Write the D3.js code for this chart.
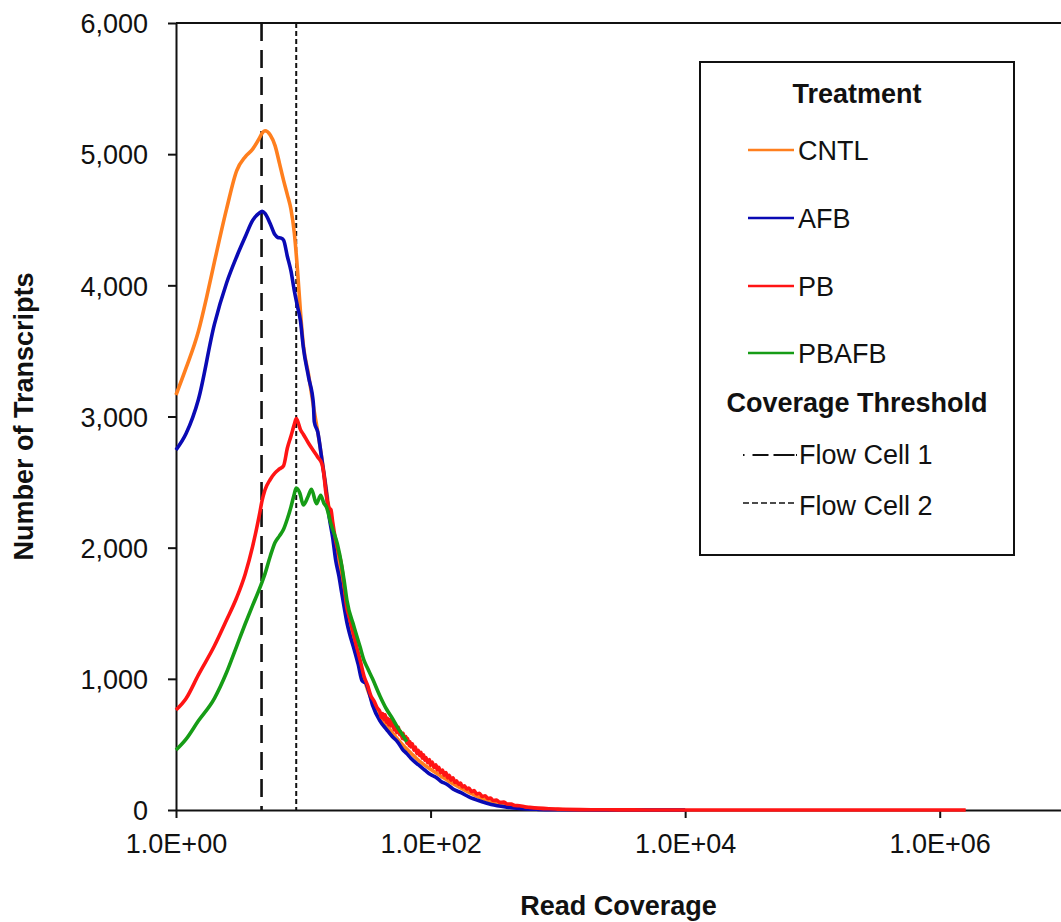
<!DOCTYPE html>
<html>
<head>
<meta charset="utf-8">
<script src="https://cdn.jsdelivr.net/npm/d3@7"></script>
<style>
  html, body { margin: 0; padding: 0; background: #fff; }
  svg { display: block; }
  text { font-family: "Liberation Sans", Arial, sans-serif; fill: #111; }
</style>
</head>
<body>
<svg id="chart" width="1061" height="922"></svg>
<script>
// ---------------- DATA ----------------
const seriesNames = ["CNTL", "AFB", "PB", "PBAFB"];
const seriesColors = ["#FF7F1E", "#0A0AB4", "#FF1414", "#169C16"];

const cntl = [[1,3164],[1.2,3370],[1.5,3650],[1.75,3920],[2,4175],[2.5,4585],[3,4875],[3.5,4980],[4,5038],[4.5,5118],[4.75,5160],[5,5178],[5.5,5146],[6,5065],[6.5,4930],[7,4800],[7.5,4690],[8,4580],[8.5,4400],[9,4120],[9.5,3800],[10,3550],[11,3320],[12,3080],[13,2880],[14,2680],[15,2480],[16,2280],[17,2120],[18,1960],[20,1760],[22,1500],[25,1300],[28,1110],[30,1000],[35,820],[40,705],[45,650],[50,590],[60,500],[70,435],[80,380],[100,310],[120,260],[150,200],[200,135],[250,90],[300,65],[400,38],[500,24],[700,10],[1000,4],[2000,1],[10000,0]];

const afb = [[1,2745],[1.2,2870],[1.5,3130],[2,3700],[2.5,4020],[3,4220],[3.5,4370],[4,4495],[4.5,4550],[4.75,4565],[5,4548],[5.5,4470],[6,4385],[6.3,4365],[6.7,4360],[7,4345],[7.5,4220],[8,4110],[8.5,3960],[9,3840],[9.5,3730],[10,3530],[11,3300],[12,3100],[12.2,2960],[13,2880],[14,2670],[15,2460],[16,2230],[17,2080],[18,1900],[19,1790],[20,1660],[21,1540],[22,1430],[23,1350],[25,1230],[27,1110],[29,985],[30,975],[31,968],[32,935],[35,800],[40,680],[45,615],[50,560],[55,520],[60,465],[65,430],[70,395],[80,345],[90,305],[100,270],[110,250],[120,220],[135,195],[150,160],[175,130],[200,100],[250,65],[300,42],[400,22],[500,12],[700,5],[1000,2],[2000,0],[10000,0]];

const pb = [[1,762],[1.2,850],[1.5,1030],[2,1250],[2.5,1450],[3,1620],[3.5,1800],[4,2010],[4.5,2240],[4.75,2360],[5,2440],[5.5,2520],[6,2570],[6.5,2600],[7,2625],[7.5,2760],[8,2850],[8.5,2940],[8.8,2985],[9,2970],[9.5,2900],[10,2865],[11,2796],[12,2740],[13,2690],[14,2640],[14.5,2560],[15,2430],[16,2300],[16.5,2290],[17,2200],[18,2050],[20,1860],[21,1700],[22,1540],[23,1470],[24,1400],[25,1330],[26,1260],[27,1200],[28,1140],[30,1020],[32,950],[34,870],[36,830],[38,780],[40,750],[41,705],[42,735],[43,690],[44,725],[45,670],[46,700],[47,650],[48,690],[49,640],[50,665],[52,610],[53,650],[54,590],[56,630],[57,575],[58,600],[60,545],[61,585],[62,540],[64,560],[65,510],[66,545],[68,490],[69,520],[70,480],[72,505],[74,455],[76,480],[78,430],[80,455],[82,415],[84,440],[86,395],[88,420],[90,380],[92,400],[95,360],[98,385],[100,340],[103,365],[106,325],[110,345],[113,305],[116,325],[120,285],[124,305],[128,265],[132,285],[136,245],[140,265],[145,228],[150,245],[155,210],[160,222],[166,195],[172,205],[178,175],[185,185],[192,160],[200,168],[210,140],[220,148],[230,122],[242,128],[255,103],[268,108],[282,88],[296,92],[310,72],[330,75],[350,58],[375,60],[400,46],[430,45],[460,34],[500,32],[550,24],[600,20],[700,14],[850,9],[1000,7],[1500,3],[2000,2],[3000,1],[5000,0.5],[10000,0],[100000,0],[1600000,0]];

const pbafb = [[1,457],[1.2,540],[1.5,680],[2,850],[2.5,1050],[3,1250],[3.5,1420],[4,1560],[4.5,1680],[4.75,1740],[5,1800],[5.5,1935],[6,2040],[6.5,2090],[7,2140],[7.5,2220],[8,2310],[8.5,2410],[8.8,2455],[9.4,2415],[10,2325],[10.9,2390],[11.6,2445],[12.7,2335],[13.7,2400],[14.5,2340],[15.2,2310],[16.5,2180],[18.5,2030],[20,1870],[21,1740],[22,1600],[25,1400],[28,1240],[30,1140],[32,1080],[35,1000],[40,870],[45,770],[50,700],[55,630],[60,575],[65,520]];

const seriesData = [cntl, afb, pb, pbafb];

const thresholdNames = ["Flow Cell 1", "Flow Cell 2"];
const thresholdValues = [4.7, 8.8];

const xTickValues = [1, 100, 10000, 1000000];
const xTickLabels = ["1.0E+00", "1.0E+02", "1.0E+04", "1.0E+06"];
const yTickValues = [0, 1000, 2000, 3000, 4000, 5000, 6000];

// ---------------- CHART ----------------
const svg = d3.select("#chart");
const pLeft = 176, pRight = 1067, pTop = 23, pBottom = 810;

const x = d3.scaleLog().domain([1, 1e7]).range([pLeft, pRight]);
const y = d3.scaleLinear().domain([0, 6000]).range([pBottom, pTop]);

const FS = 27;

// top border line
svg.append("line")
  .attr("x1", pLeft).attr("x2", 1061)
  .attr("y1", y(6000)).attr("y2", y(6000))
  .attr("stroke", "#111").attr("stroke-width", 2);

// y axis
const yAxis = svg.append("g")
  .attr("transform", `translate(${pLeft},0)`)
  .call(d3.axisLeft(y).tickValues(yTickValues).tickFormat(d3.format(",")).tickSize(8).tickSizeOuter(0).tickPadding(20));
yAxis.select(".domain").attr("stroke", "#111").attr("stroke-width", 2);
yAxis.selectAll(".tick line").attr("stroke", "#111").attr("stroke-width", 2);
yAxis.selectAll(".tick text").attr("font-size", FS).attr("font-family", "Liberation Sans, Arial, sans-serif").attr("fill", "#111").attr("dy", "0.36em");

// x axis
const xAxis = svg.append("g")
  .attr("transform", `translate(0,${pBottom})`)
  .call(d3.axisBottom(x).tickValues(xTickValues).tickFormat((d, i) => xTickLabels[i]).tickSize(8).tickSizeOuter(0).tickPadding(16));
xAxis.select(".domain").attr("stroke", "#111").attr("stroke-width", 2);
xAxis.selectAll(".tick line").attr("stroke", "#111").attr("stroke-width", 2);
xAxis.selectAll(".tick text").attr("font-size", FS).attr("font-family", "Liberation Sans, Arial, sans-serif").attr("fill", "#111");

// threshold lines
const thrStyles = [
  { w: 2.6, dash: "18,9" },
  { w: 2, dash: "5,3" }
];
thresholdValues.forEach((v, i) => {
  svg.append("line")
    .attr("x1", x(v)).attr("x2", x(v))
    .attr("y1", y(6000)).attr("y2", y(0))
    .attr("stroke", "#111")
    .attr("stroke-width", thrStyles[i].w)
    .attr("stroke-dasharray", thrStyles[i].dash);
});

// series lines
const line = d3.line()
  .x(d => x(d[0]))
  .y(d => y(d[1]))
  .curve(d3.curveMonotoneX);

seriesData.forEach((data, i) => {
  svg.append("path")
    .datum(data)
    .attr("fill", "none")
    .attr("stroke", seriesColors[i])
    .attr("stroke-width", 3.6)
    .attr("stroke-linejoin", "round")
    .attr("d", line);
});

// axis titles
svg.append("text")
  .attr("x", (pLeft + pRight) / 2 - 3).attr("y", 915)
  .attr("text-anchor", "middle")
  .attr("font-size", FS).attr("font-weight", "bold")
  .text("Read Coverage");

svg.append("text")
  .attr("transform", `translate(33,${(pTop + pBottom) / 2}) rotate(-90)`)
  .attr("text-anchor", "middle")
  .attr("font-size", FS).attr("font-weight", "bold")
  .text("Number of Transcripts");

// legend
const lg = svg.append("g");
lg.append("rect")
  .attr("x", 700).attr("y", 62).attr("width", 314).attr("height", 493)
  .attr("fill", "#fff").attr("stroke", "#111").attr("stroke-width", 2);

lg.append("text").attr("x", 857).attr("y", 103)
  .attr("text-anchor", "middle").attr("font-size", FS).attr("font-weight", "bold")
  .text("Treatment");

const rowY = [150, 218, 286, 353];
seriesNames.forEach((name, i) => {
  lg.append("line")
    .attr("x1", 748).attr("x2", 794)
    .attr("y1", rowY[i]).attr("y2", rowY[i])
    .attr("stroke", seriesColors[i]).attr("stroke-width", 2.4);
  lg.append("text").attr("x", 798).attr("y", rowY[i] + 10)
    .attr("font-size", FS).text(name);
});

lg.append("text").attr("x", 857).attr("y", 412)
  .attr("text-anchor", "middle").attr("font-size", FS).attr("font-weight", "bold")
  .text("Coverage Threshold");

const thrRowY = [455, 503];
const thrLegendDash = ["1.5,8,16,5,21", "6,3"];
const thrLegendW = [2, 1.6];
thresholdNames.forEach((name, i) => {
  lg.append("line")
    .attr("x1", 743).attr("x2", 797)
    .attr("y1", thrRowY[i]).attr("y2", thrRowY[i])
    .attr("stroke", "#111").attr("stroke-width", thrLegendW[i])
    .attr("stroke-dasharray", thrLegendDash[i]);
  lg.append("text").attr("x", 799).attr("y", thrRowY[i] + 9 + i * 3)
    .attr("font-size", FS).text(name);
});
</script>
</body>
</html>
